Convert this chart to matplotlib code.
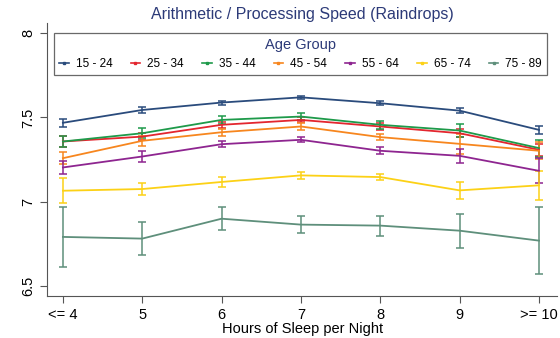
import numpy as np
import matplotlib.pyplot as plt
from matplotlib.lines import Line2D

plt.rcParams['font.family'] = ['Liberation Sans', 'DejaVu Sans']

# hours of sleep categories
hours = ['<= 4', '5', '6', '7', '8', '9', '>= 10']
groups = ['15 - 24', '25 - 34', '35 - 44', '45 - 54', '55 - 64', '65 - 74', '75 - 89']
colors = ['#2a4b7c', '#e3262f', '#1e9a4a', '#f7861e', '#8e2590', '#fcd116', '#5e8f7b']

# mean score per age group
m_15_24 = [7.468, 7.544, 7.588, 7.619, 7.584, 7.540, 7.426]
m_25_34 = [7.357, 7.386, 7.456, 7.485, 7.446, 7.406, 7.308]
m_35_44 = [7.357, 7.406, 7.485, 7.505, 7.456, 7.422, 7.318]
m_45_54 = [7.258, 7.361, 7.412, 7.446, 7.383, 7.343, 7.302]
m_55_64 = [7.203, 7.268, 7.341, 7.367, 7.302, 7.272, 7.183]
m_65_74 = [7.065, 7.075, 7.117, 7.156, 7.146, 7.067, 7.097]
m_75_89 = [6.791, 6.781, 6.899, 6.864, 6.858, 6.828, 6.769]

# half width of the error bars
e_15_24 = [0.025, 0.015, 0.012, 0.010, 0.012, 0.016, 0.025]
e_25_34 = [0.030, 0.020, 0.018, 0.015, 0.018, 0.025, 0.035]
e_35_44 = [0.030, 0.030, 0.022, 0.022, 0.022, 0.040, 0.050]
e_45_54 = [0.035, 0.030, 0.020, 0.018, 0.020, 0.060, 0.050]
e_55_64 = [0.040, 0.030, 0.018, 0.015, 0.020, 0.040, 0.075]
e_65_74 = [0.075, 0.037, 0.027, 0.020, 0.020, 0.050, 0.086]
e_75_89 = [0.180, 0.100, 0.067, 0.050, 0.060, 0.100, 0.200]

means = [m_15_24, m_25_34, m_35_44, m_45_54, m_55_64, m_65_74, m_75_89]
errs = [e_15_24, e_25_34, e_35_44, e_45_54, e_55_64, e_65_74, e_75_89]

fig = plt.figure(figsize=(5.6, 3.38), dpi=100)
ax = fig.add_axes([0.084, 0.124, 0.911, 0.808])

x = np.arange(len(hours))
handles = []
for i in range(len(groups)):
    ax.errorbar(x, means[i], yerr=errs[i], color=colors[i], lw=1.3,
                elinewidth=1.1, capsize=3, capthick=1.1)
    handles.append(Line2D([0], [0], color=colors[i], lw=1.2, marker='s', markersize=2))

ax.set_xlim(-0.2, 6.23)
ax.set_ylim(6.44, 8.06)
ax.set_xticks(x)
ax.set_xticklabels(hours, fontsize=10.5)
ax.set_yticks([6.5, 7, 7.5, 8])
ax.set_yticklabels(['6.5', '7', '7.5', '8'], fontsize=10.5, rotation=90, va='center')
ax.tick_params(axis='both', length=5, color='#555555', width=0.8)
ax.spines['top'].set_visible(False)
ax.spines['right'].set_visible(False)
ax.spines['left'].set_color('#555555')
ax.spines['bottom'].set_color('#555555')
ax.set_xlabel('Hours of Sleep per Night', fontsize=10.5, labelpad=0)
ax.set_title('Arithmetic / Processing Speed (Raindrops)', fontsize=11.5, color='#2c3a78', pad=3)

leg = ax.legend(handles, groups, ncol=7, title='Age Group', loc='upper center',
                bbox_to_anchor=(0.497, 0.965), fontsize=8.5, handlelength=0.8,
                columnspacing=1.55, handletextpad=0.6, frameon=True, fancybox=False,
                borderpad=0.45, borderaxespad=0)
leg.get_title().set_fontsize(10.5)
leg.get_title().set_color('#2c3a78')
leg.get_frame().set_edgecolor('#444444')
leg.get_frame().set_linewidth(0.9)

fig.savefig('out.png', dpi=100)
